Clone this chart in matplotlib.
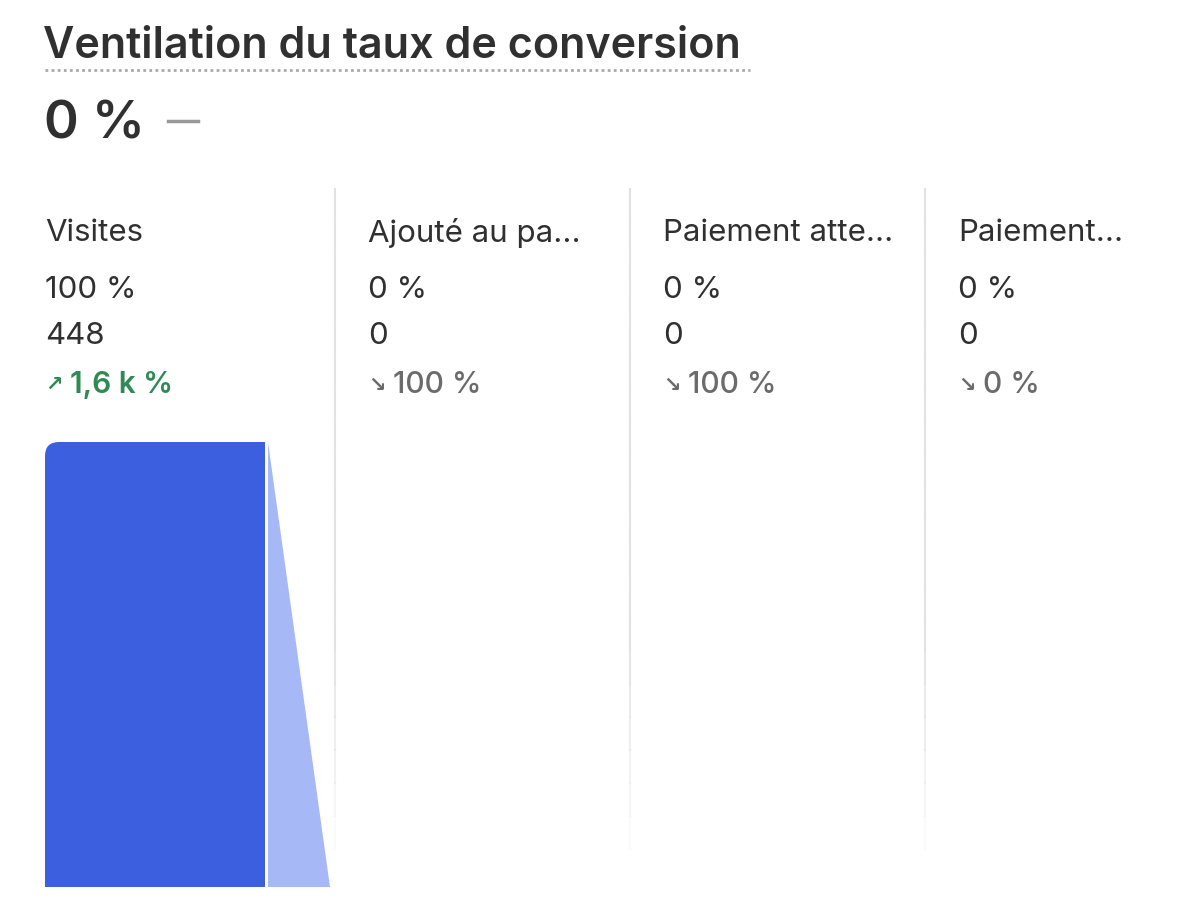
import matplotlib.pyplot as plt
from matplotlib.patches import FancyBboxPatch, Polygon

steps = ["Visites", "Ajouté au pa...", "Paiement atte...", "Paiement..."]
shares = ["100 %", "0 %", "0 %", "0 %"]
counts = [448, 0, 0, 0]
changes = ["1,6 k %", "100 %", "100 %", "0 %"]
up = [True, False, False, False]

BLUE = "#3c5fe0"
LIGHT = "#a6b8f5"
DARK = "#303030"
GREEN = "#2f8a55"
GREY = "#6b6b6b"

fig = plt.figure(figsize=(12, 9.12), dpi=100)
ax = fig.add_axes([0, 0, 1, 1])
ax.set_xlim(0, 1200)
ax.set_ylim(912, 0)
ax.axis("off")

ax.text(43, 47, "Ventilation du taux de conversion", fontsize=31, fontweight="semibold",
        color=DARK, va="center", family="Inter")
ax.plot([45, 750], [71, 71], color="#aaaaaa", lw=2, ls=(0, (1, 1.2)))
ax.text(44, 125, "0 %", fontsize=38, fontweight="semibold", color=DARK, va="center", family="Inter")
ax.plot([168, 198], [122, 122], color="#999999", lw=2.5)

col_x = [45, 368, 663, 958]
for i, x in enumerate(col_x):
    if i > 0:
        sx = x - 33
        # separator fading toward the bottom
        for k in range(20):
            y0 = 190 + k * 33
            a = 1.0 if k < 14 else max(0, 1 - (k - 13) / 7)
            ax.plot([sx, sx], [y0, y0 + 33], color="#e2e2e2", lw=1.5, alpha=a)
    ax.text(x, 233, steps[i], fontsize=22.5, color=DARK, va="center", family="Inter")
    ax.text(x, 290, shares[i], fontsize=22.5, color=DARK, va="center", family="Inter")
    ax.text(x, 336, str(counts[i]), fontsize=22.5, color=DARK, va="center", family="Inter")
    col = GREEN if up[i] else GREY
    ax.text(x, 385, "↗" if up[i] else "↘", fontsize=15, fontweight="bold", color=col,
            va="center", family="DejaVu Sans")
    ax.text(x + 25, 385, changes[i], fontsize=21.5, fontweight="semibold" if up[i] else "medium",
            color=col, va="center", family="Inter")

base, top, width = 888, 443, 220
scale = (base - top) / max(counts)
for i, x in enumerate(col_x):
    h = counts[i] * scale
    if h > 0:
        ax.add_patch(FancyBboxPatch((x, base - h), width, h, boxstyle="round,pad=0,rounding_size=14",
                                    fc=BLUE, ec="none"))
        ax.add_patch(plt.Rectangle((x, base - h + 14), width, h - 14, fc=BLUE, ec="none"))
        ax.add_patch(plt.Rectangle((x + 14, base - h), width - 14, h, fc=BLUE, ec="none"))
        if i + 1 < len(counts):
            h2 = counts[i + 1] * scale
            ax.add_patch(Polygon([(x + width + 3, base - h), (x + width + 65, base - h2),
                                  (x + width + 65, base), (x + width + 3, base)], fc=LIGHT, ec="none"))

fig.savefig("out.png", dpi=100, facecolor="white")
